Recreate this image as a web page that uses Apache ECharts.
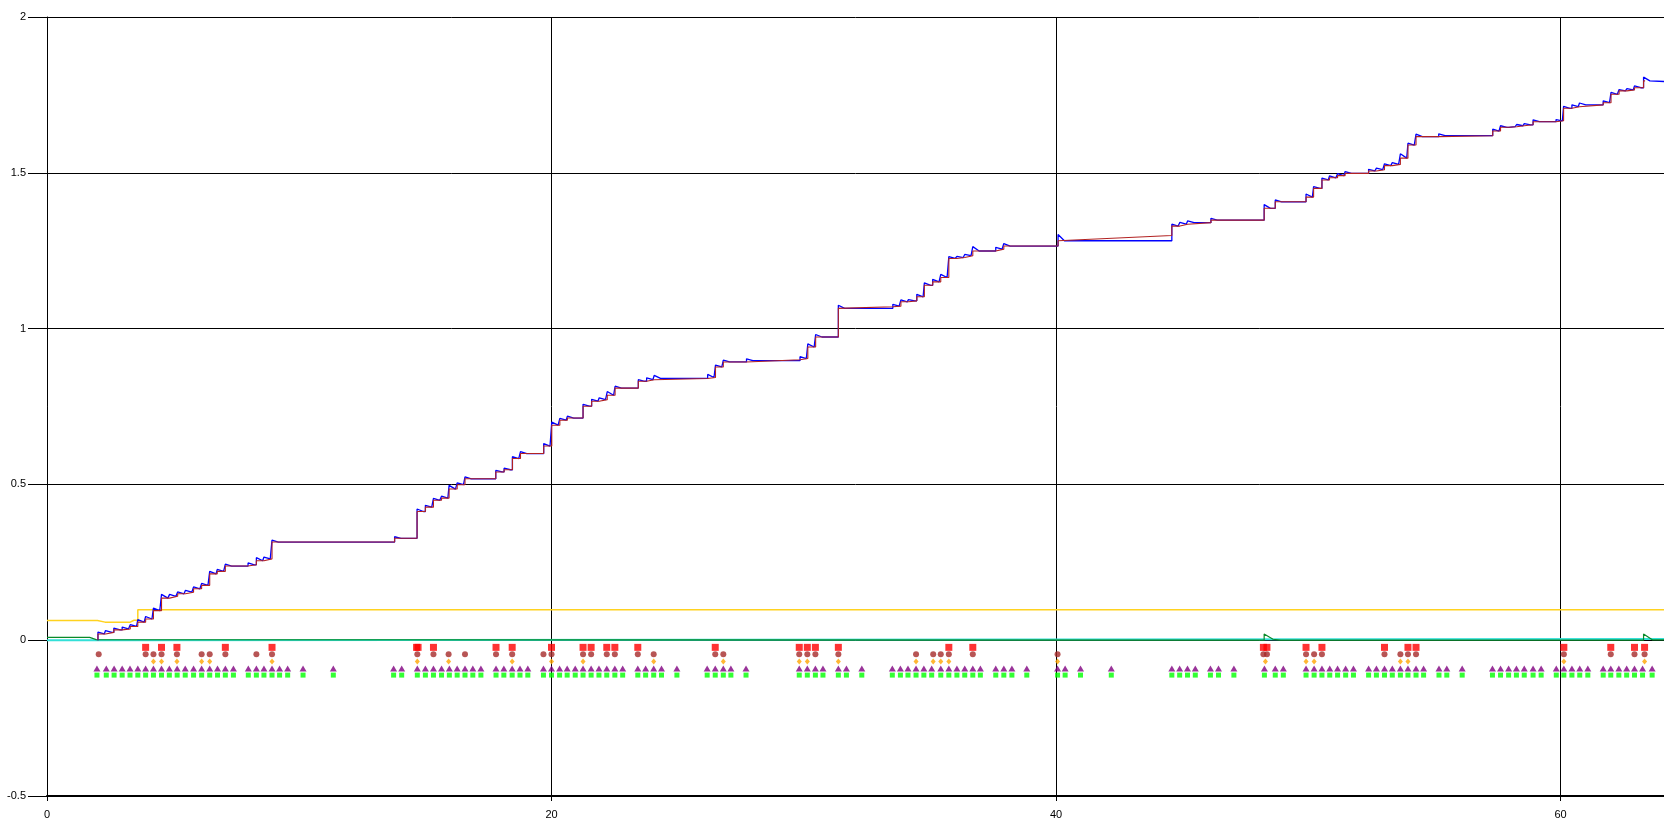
<!DOCTYPE html>
<html>
<head>
<meta charset="utf-8">
<script src="https://cdn.jsdelivr.net/npm/echarts@6/dist/echarts.min.js"></script>
<style>
html,body{margin:0;padding:0;background:#fff;}
#chart{width:1664px;height:825px;}
</style>
</head>
<body>
<div id="chart"></div>
<script>
// ---- Data ----
const xTicks = [0, 20, 40, 60];
const yTicks = [-0.5, 0, 0.5, 1, 1.5, 2];

// staircase event times and level reached after each event
const stepT = [2.02,2.32,2.65,2.98,3.30,3.60,3.91,4.22,4.54,4.86,
  5.18,5.49,5.81,6.13,6.45,6.75,7.07,7.97,8.30,8.60,
  8.92,13.78,14.67,15.00,15.32,15.64,15.94,16.26,16.57,17.79,
  18.12,18.45,18.77,19.69,20.01,20.33,20.63,21.25,21.59,21.89,
  22.21,22.52,23.44,23.77,24.07,26.19,26.50,26.81,27.73,29.85,
  30.16,30.47,31.37,33.53,33.85,34.15,34.48,34.78,35.11,35.43,
  35.75,36.07,36.38,36.70,37.61,37.93,40.08,44.59,44.91,45.22,
  46.14,48.25,48.69,49.91,50.21,50.54,50.84,51.16,51.46,52.39,
  52.70,53.02,53.33,53.65,53.95,54.27,55.17,57.31,57.62,57.95,
  58.26,58.56,58.91,59.82,60.12,60.45,60.75,61.69,62.00,62.32,
  62.63,62.93,63.29];
const stepLevel = [0.020,0.025,0.033,0.036,0.044,0.058,0.068,0.095,0.135,0.141,
  0.149,0.154,0.165,0.176,0.213,0.221,0.238,0.242,0.255,0.261,
  0.315,0.327,0.413,0.427,0.449,0.456,0.485,0.499,0.518,0.540,
  0.547,0.583,0.599,0.623,0.690,0.706,0.713,0.751,0.767,0.772,
  0.786,0.809,0.831,0.836,0.840,0.843,0.877,0.893,0.897,0.904,
  0.941,0.973,1.065,1.072,1.086,1.089,1.102,1.139,1.150,1.164,
  1.225,1.228,1.234,1.249,1.255,1.265,1.282,1.329,1.335,1.340,
  1.348,1.386,1.407,1.422,1.450,1.477,1.484,1.491,1.498,1.506,
  1.510,1.523,1.527,1.547,1.589,1.616,1.619,1.634,1.646,1.648,
  1.651,1.654,1.664,1.667,1.707,1.712,1.718,1.725,1.752,1.763,
  1.766,1.773,1.795];
// blue overshoot above the level at each event
const blueOver = [0.006,0.006,0.006,0.006,0.006,0.008,0.008,0.008,0.012,0.006,
  0.006,0.006,0.006,0.006,0.008,0.006,0.006,0.006,0.010,0.006,
  0.006,0.005,0.008,0.006,0.006,0.006,0.012,0.006,0.006,0.005,
  0.005,0.006,0.006,0.008,0.010,0.006,0.006,0.006,0.006,0.006,
  0.012,0.006,0.005,0.006,0.010,0.010,0.006,0.006,0.006,0.006,
  0.010,0.008,0.010,0.006,0.006,0.004,0.008,0.008,0.008,0.010,
  0.006,0.004,0.004,0.014,0.006,0.008,0.020,0.006,0.006,0.006,
  0.006,0.012,0.006,0.010,0.006,0.006,0.006,0.006,0.006,0.005,
  0.005,0.006,0.006,0.014,0.006,0.008,0.006,0.006,0.005,0.004,
  0.004,0.004,0.006,0.004,0.006,0.006,0.006,0.006,0.006,0.004,
  0.004,0.006,0.012];
// red value just before a few events (red drifts on long gaps)
const redPreIndex = [49, 53, 67];
const redPreValue = [0.900, 1.070, 1.299];
const redEndX = 63.35;
const blueEndX = 64.1, blueEndY = 1.793;
const decayWidth = 0.25;

const yellowX = [0, 2.0, 2.3, 3.3, 3.45, 3.6, 3.6, 64.1];
const yellowY = [0.063, 0.063, 0.058, 0.058, 0.064, 0.064, 0.098, 0.098];
const cyanX = [0, 1.95, 2.02, 64.1];
const cyanY = [0.0, 0.0, 0.004, 0.004];
const greenX = [0, 1.69, 1.70, 1.95, 2.02, 48.25, 48.25, 48.30, 48.60, 48.90, 63.29, 63.29, 63.34, 63.65, 64.1];
const greenY = [0.009, 0.009, 0.013, 0.002, 0.0, 0.0, 0.020, 0.019, 0.003, 0.0, 0.0, 0.020, 0.019, 0.001, 0.001];

// marker rows
const rowRed = -0.023, rowBrown = -0.045, rowOrange = -0.068, rowPurple = -0.091, rowGreen = -0.112;
const redSqX = [3.91,4.54,5.15,7.07,8.92,14.65,14.71,15.32,17.80,18.44,20.00,21.25,21.57,22.19,22.51,23.42,26.49,29.82,30.14,30.46,31.37,35.75,36.70,48.22,48.36,49.91,50.54,53.02,53.95,54.27,60.13,61.99,62.93,63.33];
const brownX = [2.05,3.91,4.22,4.54,5.15,6.13,6.45,7.07,8.30,8.92,14.68,15.32,15.92,16.57,17.80,18.44,19.68,20.00,21.25,21.57,22.19,22.51,23.42,24.05,26.49,26.81,29.82,30.14,30.46,31.37,34.45,35.13,35.43,35.75,36.70,40.06,48.22,48.36,49.91,50.23,50.54,53.02,53.65,53.95,54.27,60.13,61.99,62.93,63.33];
const orangeX = [4.22,4.54,5.15,6.13,6.45,8.92,14.68,15.92,18.44,20.00,21.25,24.05,26.81,29.82,30.14,31.37,34.45,35.13,35.43,35.75,40.06,48.30,49.91,50.23,53.65,53.95,60.13,63.33];
const eventX = [1.98,2.35,2.66,2.98,3.29,3.60,3.91,4.22,4.54,4.85,5.16,5.48,5.81,6.13,6.45,6.76,7.07,7.39,7.98,8.30,8.60,8.92,9.22,9.54,10.15,11.35,13.74,14.06,14.68,15.00,15.32,15.64,15.95,16.26,16.57,16.88,17.20,17.80,18.11,18.44,18.75,19.06,19.68,20.00,20.32,20.62,20.94,21.25,21.57,21.88,22.19,22.51,22.82,23.42,23.73,24.05,24.36,24.97,26.17,26.49,26.81,27.11,27.71,29.82,30.14,30.46,30.76,31.37,31.69,32.30,33.51,33.83,34.13,34.45,34.76,35.07,35.43,35.75,36.07,36.38,36.70,37.00,37.61,37.93,38.25,38.84,40.06,40.36,40.97,42.19,44.59,44.90,45.21,45.52,46.12,46.44,47.05,48.26,48.69,49.01,49.91,50.23,50.54,50.85,51.16,51.48,51.79,52.39,52.70,53.02,53.33,53.65,53.95,54.27,54.57,55.18,55.49,56.10,57.30,57.62,57.94,58.25,58.56,58.91,59.23,59.83,60.13,60.45,60.76,61.08,61.69,61.99,62.31,62.62,62.93,63.25,63.63];

// ---- Build series data ----
function zip(xs, ys){ return xs.map((x,i)=>[x, ys[i]]); }
function row(xs, y){ return xs.map(x=>[x, y]); }

const redData = [[stepT[0], 0]];
const blueData = [[stepT[0], 0]];
stepT.forEach((t, i) => {
  const prev = i === 0 ? 0 : stepLevel[i-1];
  const k = redPreIndex.indexOf(i);
  const redPre = k >= 0 ? redPreValue[k] : prev;
  redData.push([t, redPre], [t, stepLevel[i]]);
  blueData.push([t, prev], [t, stepLevel[i] + blueOver[i]], [t + decayWidth, stepLevel[i]]);
});
redData.push([redEndX, stepLevel[stepLevel.length-1]]);
blueData.push([blueEndX, blueEndY]);

const FONT = 'Liberation Sans, Arial, sans-serif';
const chart = echarts.init(document.getElementById('chart'), null, {renderer:'canvas'});
const lineBase = {type:'line', showSymbol:false, symbol:'none', animation:false, silent:true};

chart.setOption({
  animation:false,
  backgroundColor:'#ffffff',
  grid:{left:47, right:0, top:17, bottom:29, containLabel:false},
  xAxis:{
    type:'value', min:0, max:64.1, interval:20,
    axisLine:{show:true, onZero:false, lineStyle:{color:'#000', width:2}},
    axisTick:{show:true, length:5, lineStyle:{color:'#000'}},
    axisLabel:{color:'#000', fontFamily:FONT, fontSize:11, margin:13, showMaxLabel:false,
      formatter:v => xTicks.includes(v) ? String(v) : ''},
    splitLine:{show:true, lineStyle:{color:'#000', width:1}}
  },
  yAxis:{
    type:'value', min:-0.5, max:2, interval:0.5,
    axisLine:{show:true, onZero:false, lineStyle:{color:'#000', width:1}},
    axisTick:{show:true, length:19, lineStyle:{color:'#000'}},
    axisLabel:{color:'#000', fontFamily:FONT, fontSize:11, margin:21,
      formatter:v => yTicks.includes(v) ? String(v) : ''},
    splitLine:{show:true, lineStyle:{color:'#000', width:1}}
  },
  series:[
    Object.assign({}, lineBase, {name:'yellow', data:zip(yellowX, yellowY), lineStyle:{color:'#ffd21f', width:1.5}, z:2}),
    Object.assign({}, lineBase, {name:'cyan', data:zip(cyanX, cyanY), lineStyle:{color:'#33e0d8', width:2}, z:2}),
    Object.assign({}, lineBase, {name:'green', data:zip(greenX, greenY), lineStyle:{color:'#0a8a2a', width:1.2}, z:3}),
    Object.assign({}, lineBase, {name:'blue', data:blueData, lineStyle:{color:'#0000ff', width:1.3}, z:4}),
    Object.assign({}, lineBase, {name:'red', data:redData, lineStyle:{color:'#b22222', width:1.1}, z:5}),
    {type:'scatter', name:'sq', data:row(redSqX, rowRed), symbol:'rect', symbolSize:7, itemStyle:{color:'#ff0000'}, animation:false, silent:true},
    {type:'scatter', name:'circ', data:row(brownX, rowBrown), symbol:'circle', symbolSize:6, itemStyle:{color:'#a52a2a'}, animation:false, silent:true},
    {type:'scatter', name:'dia', data:row(orangeX, rowOrange), symbol:'diamond', symbolSize:[5,6], itemStyle:{color:'#ffa500'}, animation:false, silent:true},
    {type:'scatter', name:'tri', data:row(eventX, rowPurple), symbol:'triangle', symbolSize:[7,6], itemStyle:{color:'#800080'}, animation:false, silent:true},
    {type:'scatter', name:'grn', data:row(eventX, rowGreen), symbol:'rect', symbolSize:5, itemStyle:{color:'#00ff00'}, animation:false, silent:true}
  ]
});
</script>
</body>
</html>
